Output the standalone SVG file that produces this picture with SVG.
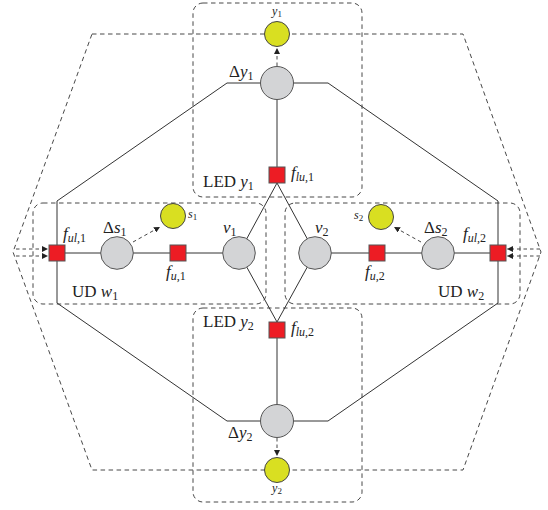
<svg xmlns="http://www.w3.org/2000/svg" width="548" height="510" viewBox="0 0 548 510">
<style>
.bg{fill:#fff}
.dash{fill:none;stroke:#333;stroke-width:0.9;stroke-dasharray:4.5 3.5}
.edge{fill:none;stroke:#333;stroke-width:1}
.darr{fill:none;stroke:#333;stroke-width:0.9;stroke-dasharray:3.5 3}
.g{fill:#d3d4d6;stroke:#555;stroke-width:1}
.yel{fill:#d9df21;stroke:#444;stroke-width:1}
.red{fill:#ed1c24;stroke:#555;stroke-width:1}
text{font-family:"Liberation Serif","DejaVu Serif",serif;fill:#222;font-size:17px}
.i{font-style:italic}
.sm{font-size:12px}
.sub{font-size:12px}
.ssub{font-size:9px}
</style>
<defs>
<marker id="ah" viewBox="0 0 6 6" refX="6" refY="3" markerWidth="6" markerHeight="6" markerUnits="userSpaceOnUse" orient="auto">
<path d="M0,0 L6,3 L0,6 Z" fill="#222"/>
</marker>
</defs>
<rect class="bg" x="0" y="0" width="548" height="510"/>

<g id="regions">
<polygon class="dash" points="92,34 463,34 541,252 463,470 92,470 13,252"/>
<rect class="dash" x="193" y="3" width="169" height="194" rx="10"/>
<rect class="dash" x="193" y="308" width="169" height="194" rx="10"/>
<rect class="dash" x="33" y="203" width="233" height="101" rx="10"/>
<rect class="dash" x="285" y="203" width="235" height="101" rx="10"/>
</g>

<g id="connectors">
<path class="edge" d="M277,83 V175"/>
<path class="edge" d="M277,83 H227 L57,201 V303 L227,421 H277"/>
<path class="edge" d="M277,83 H328 L498,201 V303 L328,421 H277"/>
<path class="edge" d="M277,421 V330"/>
<path class="edge" d="M57,253 H239"/>
<path class="edge" d="M315,253 H498"/>
<path class="edge" d="M277,183 L239,253 L277,322"/>
<path class="edge" d="M277,183 L315,253 L277,322"/>
<path class="darr" d="M277,66 V48" marker-end="url(#ah)"/>
<path class="darr" d="M277,438 V456" marker-end="url(#ah)"/>
<path class="darr" d="M133,242 L160,227" marker-end="url(#ah)"/>
<path class="darr" d="M421,242 L394,227" marker-end="url(#ah)"/>
<path class="darr" d="M16,249 H48" marker-end="url(#ah)"/>
<path class="darr" d="M16,256 H48" marker-end="url(#ah)"/>
<path class="darr" d="M540,249 H507" marker-end="url(#ah)"/>
<path class="darr" d="M540,256 H507" marker-end="url(#ah)"/>
</g>

<g id="y1"><circle class="yel" cx="277" cy="34" r="12.5"/>
<text x="277" y="15" text-anchor="middle" class="sm"><tspan class="i">y</tspan><tspan class="ssub" dy="2">1</tspan></text></g>
<g id="dy1"><circle class="g" cx="277" cy="83" r="16.5"/>
<text x="229" y="77"><tspan>Δ</tspan><tspan class="i">y</tspan><tspan class="sub" dy="3">1</tspan></text></g>
<g id="flu1"><rect class="red" x="269" y="167" width="16" height="16"/>
<text x="291" y="178"><tspan class="i">f</tspan><tspan class="sub" dy="3"><tspan class="i">lu</tspan>,1</tspan></text></g>
<g id="led1"><text x="203" y="187">LED <tspan class="i">y</tspan><tspan class="sub" dy="3">1</tspan></text></g>

<g id="fu_l1"><rect class="red" x="49" y="245" width="16" height="16"/>
<text x="63" y="239"><tspan class="i">f</tspan><tspan class="sub" dy="3"><tspan class="i">ul</tspan>,1</tspan></text></g>
<g id="ds1"><circle class="g" cx="117" cy="253" r="16.3"/>
<text x="103" y="233"><tspan>Δ</tspan><tspan class="i">s</tspan><tspan class="sub" dy="3">1</tspan></text></g>
<g id="s1"><circle class="yel" cx="173" cy="216" r="12.5"/>
<text x="188" y="218" class="sm"><tspan class="i">s</tspan><tspan class="ssub" dy="2">1</tspan></text></g>
<g id="fu1"><rect class="red" x="170" y="245" width="16" height="16"/>
<text x="166" y="277"><tspan class="i">f</tspan><tspan class="sub" dy="3"><tspan class="i">u</tspan>,1</tspan></text></g>
<g id="v1"><circle class="g" cx="239" cy="253" r="16.3"/>
<text x="223" y="233"><tspan class="i">v</tspan><tspan class="sub" dy="3">1</tspan></text></g>
<g id="ud1"><text x="72" y="297">UD <tspan class="i">w</tspan><tspan class="sub" dy="3">1</tspan></text></g>

<g id="v2"><circle class="g" cx="315" cy="253" r="16.3"/>
<text x="315" y="233"><tspan class="i">v</tspan><tspan class="sub" dy="3">2</tspan></text></g>
<g id="fu2"><rect class="red" x="369" y="245" width="16" height="16"/>
<text x="365" y="277"><tspan class="i">f</tspan><tspan class="sub" dy="3"><tspan class="i">u</tspan>,2</tspan></text></g>
<g id="s2"><circle class="yel" cx="381" cy="217" r="12.5"/>
<text x="354" y="219" class="sm"><tspan class="i">s</tspan><tspan class="ssub" dy="2">2</tspan></text></g>
<g id="ds2"><circle class="g" cx="438" cy="253" r="16.3"/>
<text x="424" y="233"><tspan>Δ</tspan><tspan class="i">s</tspan><tspan class="sub" dy="3">2</tspan></text></g>
<g id="fu_l2"><rect class="red" x="490" y="245" width="16" height="16"/>
<text x="463" y="239"><tspan class="i">f</tspan><tspan class="sub" dy="3"><tspan class="i">ul</tspan>,2</tspan></text></g>
<g id="ud2"><text x="438" y="297">UD <tspan class="i">w</tspan><tspan class="sub" dy="3">2</tspan></text></g>

<g id="led2"><text x="203" y="327">LED <tspan class="i">y</tspan><tspan class="sub" dy="3">2</tspan></text></g>
<g id="flu2"><rect class="red" x="269" y="322" width="16" height="16"/>
<text x="291" y="333"><tspan class="i">f</tspan><tspan class="sub" dy="3"><tspan class="i">lu</tspan>,2</tspan></text></g>
<g id="dy2"><circle class="g" cx="277" cy="421" r="16.5"/>
<text x="228" y="438"><tspan>Δ</tspan><tspan class="i">y</tspan><tspan class="sub" dy="3">2</tspan></text></g>
<g id="y2"><circle class="yel" cx="277" cy="470" r="12.5"/>
<text x="277" y="492" text-anchor="middle" class="sm"><tspan class="i">y</tspan><tspan class="ssub" dy="2">2</tspan></text></g>
</svg>
